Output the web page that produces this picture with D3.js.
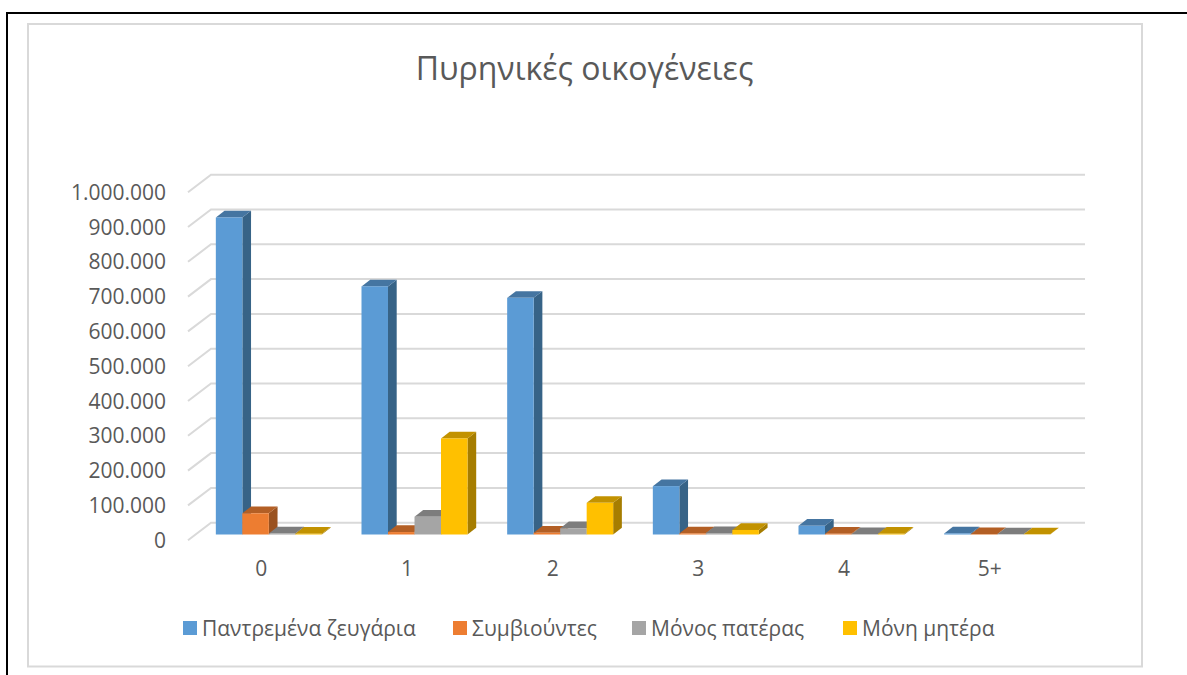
<!DOCTYPE html>
<html lang="el">
<head>
    <meta charset="UTF-8">
    <title>Πυρηνικές οικογένειες</title>
    <style>
        body {
            margin: 0;
            padding: 0;
            background-color: #ffffff;
        }
        svg {
            display: block;
        }
        text {
            font-family: "Open Sans", sans-serif;
            fill: #595959;
        }
    </style>
    <script src="https://d3js.org/d3.v7.min.js"></script>
</head>
<body>
    <script>
        const width = 1187;
        const height = 675;

        const categories = ["0", "1", "2", "3", "4", "5+"];
        const seriesNames = ["Παντρεμένα ζευγάρια", "Συμβιούντες", "Μόνος πατέρας", "Μόνη μητέρα"];
        const married = [911000, 713000, 680000, 139000, 25000, 3000];
        const cohabiting = [61000, 7000, 5000, 3000, 2000, 1000];
        const singleFather = [3000, 51000, 18000, 4000, 1000, 500];
        const singleMother = [2000, 276000, 91000, 13000, 2000, 500];
        const seriesValues = [married, cohabiting, singleFather, singleMother];
        const tickValues = [0, 100000, 200000, 300000, 400000, 500000, 600000, 700000, 800000, 900000, 1000000];

        const frontColors = ["#5b9bd5", "#ed7d31", "#a5a5a5", "#ffc000"];
        const topColors = ["#4575a1", "#b35f25", "#7d7d7d", "#c29200"];
        const sideColors = ["#376387", "#9a5220", "#6e6e6e", "#a67d00"];

        const depthX = 8.7;
        const depthY = 6.7;

        const svg = d3.select("body").append("svg")
            .attr("width", width)
            .attr("height", height);

        // page border and chart frame
        svg.append("path")
            .attr("d", "M7,675V13H1187")
            .attr("fill", "none")
            .attr("stroke", "#000000")
            .attr("stroke-width", 2);
        svg.append("rect")
            .attr("x", 28)
            .attr("y", 24)
            .attr("width", 1114)
            .attr("height", 642.5)
            .attr("fill", "#ffffff")
            .attr("stroke", "#d9d9d9")
            .attr("stroke-width", 2);

        svg.append("text")
            .attr("x", 584.5)
            .attr("y", 80)
            .attr("text-anchor", "middle")
            .attr("font-size", 32)
            .text("Πυρηνικές οικογένειες");

        const x = d3.scaleBand().domain(categories).range([196, 1070]);
        const barX = d3.scaleBand().domain(d3.range(4)).range([0, 106]);
        const groupPad = (x.bandwidth() - 106) / 2;

        const yLabel = d3.scaleLinear().domain([0, 1000000]).range([540.5, 192.5]);
        const yBack = d3.scaleLinear().domain([0, 1000000]).range([522.7, 174.7]);
        const yBar = d3.scaleLinear().domain([0, 1000000]).range([534.5, 186.5]);

        // back wall gridlines and the slanted floor/side stubs
        const grid = svg.append("g");
        tickValues.forEach(function(t) {
            grid.append("path")
                .attr("d", d3.line()([[188, yBack(t) + 17.5], [211, yBack(t)], [1085, yBack(t)]]))
                .attr("fill", "none")
                .attr("stroke", "#d9d9d9")
                .attr("stroke-width", 2);
        });

        const yAxis = d3.axisLeft(yLabel)
            .tickValues(tickValues)
            .tickSize(0)
            .tickFormat(d3.formatLocale({decimal: ",", thousands: ".", grouping: [3], currency: ["", ""]}).format(",d"));
        svg.append("g")
            .attr("transform", "translate(169,0)")
            .call(yAxis)
            .call(g => g.select(".domain").remove())
            .selectAll("text")
            .attr("font-size", 21);

        const xAxis = d3.axisBottom(x).tickSize(0);
        svg.append("g")
            .attr("transform", "translate(-7.5,558.5)")
            .call(xAxis)
            .call(g => g.select(".domain").remove())
            .selectAll("text")
            .attr("font-size", 21);

        // one 3d column per value: side, top, then front face
        seriesValues.forEach(function(values, s) {
            const g = svg.append("g");
            values.forEach(function(v, i) {
                const left = x(categories[i]) + groupPad + barX(s);
                const right = left + barX.bandwidth();
                const top = yBar(v);
                const bottom = yBar(0);
                g.append("path")
                    .attr("d", d3.line()([[right, top], [right + depthX, top - depthY], [right + depthX, bottom - depthY], [right, bottom]]) + "Z")
                    .attr("fill", sideColors[s]);
                g.append("path")
                    .attr("d", d3.line()([[left, top], [left + depthX, top - depthY], [right + depthX, top - depthY], [right, top]]) + "Z")
                    .attr("fill", topColors[s]);
                g.append("rect")
                    .attr("x", left)
                    .attr("y", top)
                    .attr("width", barX.bandwidth())
                    .attr("height", bottom - top)
                    .attr("fill", frontColors[s]);
            });
        });

        // legend
        const legendX = [183, 453, 632, 843];
        seriesNames.forEach(function(name, s) {
            svg.append("rect")
                .attr("x", legendX[s])
                .attr("y", 621)
                .attr("width", 14)
                .attr("height", 14)
                .attr("fill", frontColors[s]);
            svg.append("text")
                .attr("x", legendX[s] + 19)
                .attr("y", 636)
                .attr("font-size", 21)
                .text(name);
        });
    </script>
</body>
</html>
